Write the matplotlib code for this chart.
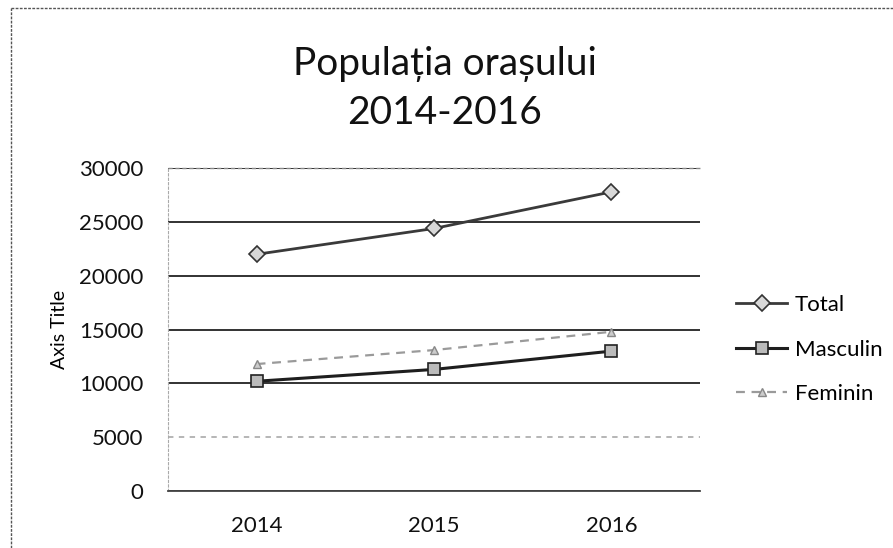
import matplotlib.pyplot as plt
from matplotlib.lines import Line2D

# data
years = ['2014', '2015', '2016']
total = [22000, 24400, 27800]
masculin = [10200, 11300, 13000]
feminin = [11800, 13100, 14800]
y_ticks = [0, 5000, 10000, 15000, 20000, 25000, 30000]

plt.rcParams['font.family'] = ['Lato', 'DejaVu Sans']

fig = plt.figure(figsize=(8.93, 5.48), dpi=100)
ax = fig.add_axes([0.188, 0.104, 0.596, 0.589])

x = range(len(years))
ax.plot(x, total, color='#3a3a3a', lw=2, marker='D', ms=8,
        mfc='#d8d8d8', mec='#333333', mew=1.2, label='Total')
ax.plot(x, masculin, color='#1e1e1e', lw=2.2, marker='s', ms=9,
        mfc='#bbbbbb', mec='#222222', mew=1.2, label='Masculin')
ax.plot(x, feminin, color='#9a9a9a', lw=1.6, ls=(0, (4, 3)), marker='^', ms=6,
        mfc='#cccccc', mec='#888888', label='Feminin')

ax.set_xlim(-0.5, 2.5)
ax.set_ylim(0, 30000)
ax.set_xticks(list(x))
ax.set_xticklabels(years)
ax.set_yticks(y_ticks)
ax.tick_params(axis='both', length=0, labelsize=16, colors='#111111')
ax.tick_params(axis='y', pad=17.5)
ax.tick_params(axis='x', pad=18)
ax.set_ylabel('Axis Title', fontsize=14, labelpad=8)

# horizontal gridlines like the scanned Excel chart
ax.grid(axis='y', color='#222222', lw=1.3)
ax.yaxis.get_gridlines()[1].set_color('#b0b0b0')
ax.yaxis.get_gridlines()[1].set_linestyle((0, (3, 3)))
ax.set_axisbelow(True)

for side in ['top', 'right']:
    ax.spines[side].set_visible(False)
ax.spines['left'].set_color('#aaaaaa')
ax.spines['left'].set_linestyle((0, (2, 2)))
ax.spines['bottom'].set_color('#444444')
ax.spines['bottom'].set_linewidth(1.3)

# top border of the plot area (light dotted)
ax.axhline(30000, color='#888888', lw=1, ls=(0, (3, 2)), clip_on=False)

fig.text(0.498, 0.838, 'Populația orașului\n2014-2016', ha='center', va='center',
         fontsize=28, linespacing=1.45, color='#111111')

ax.legend(loc='center left', bbox_to_anchor=(1.03, 0.438), frameon=False,
          fontsize=16, handlelength=2.3, labelspacing=1.1, handletextpad=0.35)

# outer chart border (left and top sides visible in the scan)
fig.add_artist(Line2D([11 / 893, 11 / 893], [0, 1 - 8 / 548], color='#555555',
                      lw=1, ls=(0, (2, 1)), transform=fig.transFigure))
fig.add_artist(Line2D([11 / 893, 1], [1 - 8 / 548, 1 - 8 / 548], color='#555555',
                      lw=1, ls=(0, (2, 1)), transform=fig.transFigure))

fig.savefig('out.png', dpi=100)
